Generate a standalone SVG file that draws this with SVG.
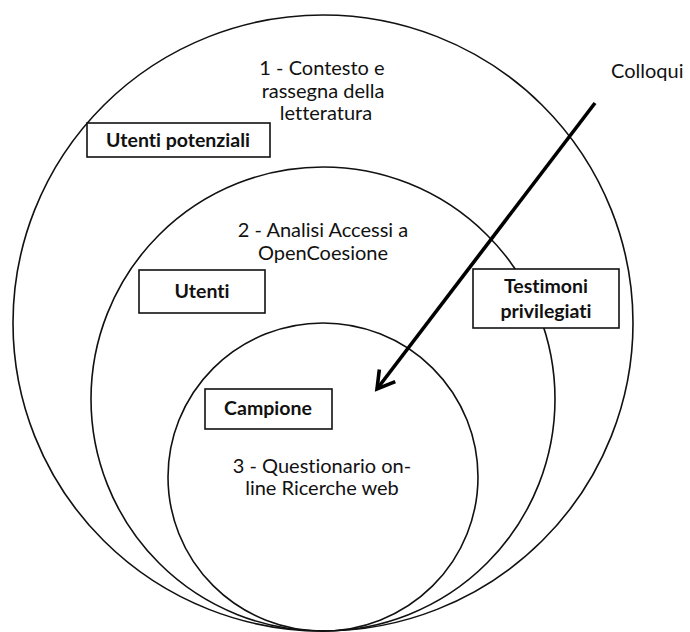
<svg xmlns="http://www.w3.org/2000/svg" width="690" height="632" viewBox="0 0 690 632">
<defs>
<style>
.ring{fill:none;stroke:#111;stroke-width:1.6}
.box{fill:#fff;stroke:#111;stroke-width:1.6}
.t{font-family:Lato,"Liberation Sans",sans-serif;font-size:20px;fill:#111;font-variant-ligatures:none}
.b{font-family:Lato,"Liberation Sans",sans-serif;font-size:19.5px;font-weight:bold;fill:#111;font-variant-ligatures:none}
.c{text-anchor:middle}
.arrow{fill:none;stroke:#000;stroke-width:3.6}
</style>
<marker id="arr" markerUnits="userSpaceOnUse" viewBox="-24 -14 28 28" refX="0" refY="0" markerWidth="28" markerHeight="28" orient="auto" overflow="visible">
<path d="M -17 -10 L 0 0 L -17 10" fill="none" stroke="#000" stroke-width="3.6"/>
</marker>
</defs>
<rect width="690" height="632" fill="#fff"/>
<g id="outer-circle">
<ellipse class="ring" cx="323" cy="323" rx="310" ry="308"/>
<text class="t c" x="322" y="75">1 - Contesto e</text>
<text class="t c" x="323" y="98">rassegna della</text>
<text class="t c" x="326" y="120">letteratura</text>
</g>
<g id="middle-circle">
<circle class="ring" cx="323" cy="399" r="232"/>
<text class="t c" x="323" y="237">2 - Analisi Accessi a</text>
<text class="t c" x="323" y="260">OpenCoesione</text>
</g>
<g id="inner-circle">
<ellipse class="ring" cx="323" cy="477" rx="155" ry="154"/>
<text class="t c" x="322" y="473">3 - Questionario on-</text>
<text class="t c" x="322" y="495">line Ricerche web</text>
</g>
<g id="connectors">
<line class="arrow" x1="595" y1="103" x2="377" y2="389" marker-end="url(#arr)"/>
</g>
<g id="colloqui">
<text class="t" x="611" y="78">Colloqui</text>
</g>
<g id="utenti-potenziali">
<rect class="box" x="87" y="123" width="183" height="34"/>
<text class="b c" x="178" y="147">Utenti potenziali</text>
</g>
<g id="utenti">
<rect class="box" x="139" y="270" width="126" height="43"/>
<text class="b c" x="202" y="298">Utenti</text>
</g>
<g id="testimoni">
<rect class="box" x="473" y="269" width="146" height="59"/>
<text class="b c" x="546" y="293">Testimoni</text>
<text class="b c" x="546" y="318">privilegiati</text>
</g>
<g id="campione">
<rect class="box" x="205" y="389" width="127" height="40"/>
<text class="b c" x="268" y="415">Campione</text>
</g>
</svg>
